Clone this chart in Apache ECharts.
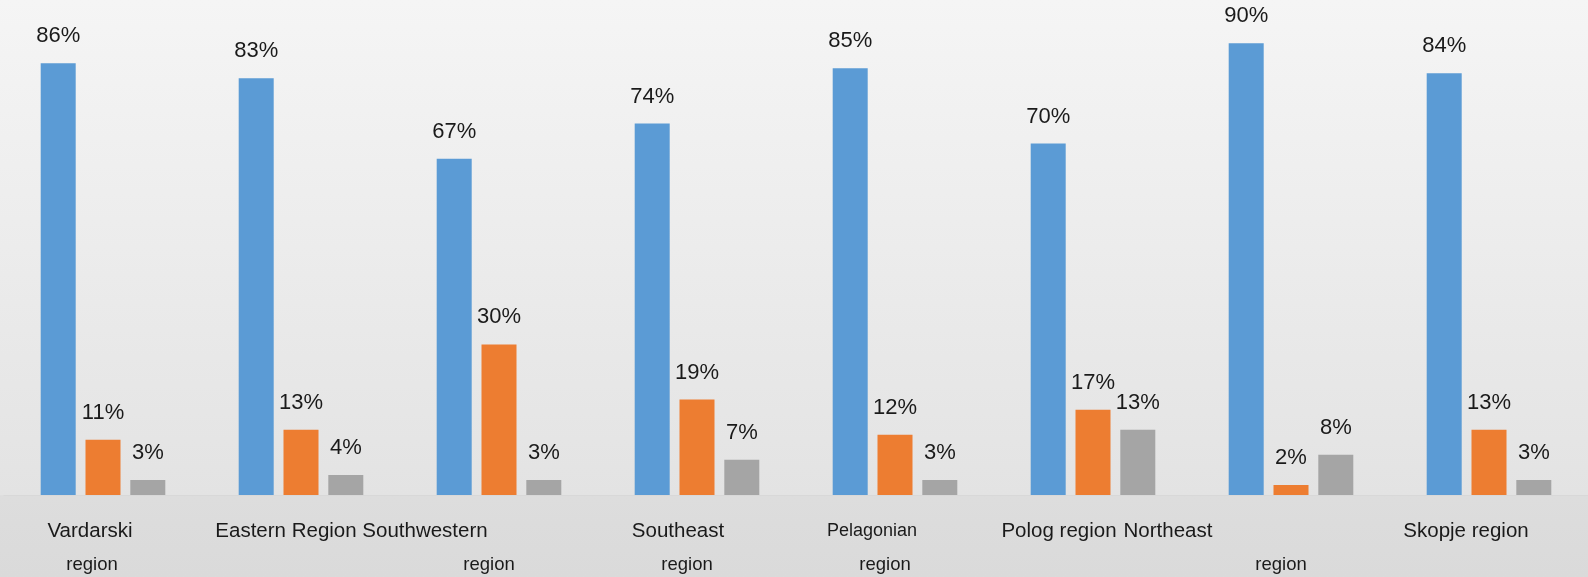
<!DOCTYPE html>
<html>
<head>
<meta charset="utf-8">
<script src="https://cdn.jsdelivr.net/npm/echarts@6/dist/echarts.min.js"></script>
<style>
  html, body { margin: 0; padding: 0; }
  #chart { width: 1588px; height: 577px; }
</style>
</head>
<body>
<div id="chart"></div>
<script>
// category labels as they are broken in the picture (line 1 \n line 2)
const categories = [
  'Vardarski\nregion', 'Eastern Region', 'Southwestern\nregion', 'Southeast\nregion',
  'Pelagonian\nregion', 'Polog region', 'Northeast\nregion', 'Skopje region'
]
const seriesA = [86, 83, 67, 74, 85, 70, 90, 84]
const seriesB = [11, 13, 30, 19, 12, 17, 2, 13]
const seriesC = [3, 4, 3, 7, 3, 13, 8, 3]

// horizontal nudge of each label line (px, negative = left)
const lineShift = [
  [-13, -11], [-15, 0], [-74, -10], [-19, -10],
  [-23, -10], [-34, 0], [-123, -10], [-23, 0]
]

const rich = {}
lineShift.forEach((s, i) => {
  rich['a' + i] = {
    fontSize: i === 4 ? 18 : 20.5, lineHeight: 32, color: '#1a1a1a',
    fontFamily: 'Liberation Sans',
    padding: s[0] < 0 ? [0, -2 * s[0], 0, 0] : [0, 0, 0, 2 * s[0]]
  }
  rich['b' + i] = {
    fontSize: 18.5, lineHeight: 36, color: '#1a1a1a',
    fontFamily: 'Liberation Sans',
    padding: s[1] < 0 ? [0, -2 * s[1], 0, 0] : [0, 0, 0, 2 * s[1]]
  }
})

const myChart = echarts.init(document.getElementById('chart'))

const barLabel = {
  show: true,
  position: 'top',
  distance: 16,
  formatter: '{c}%',
  fontSize: 22,
  color: '#1a1a1a',
  fontFamily: 'Liberation Sans'
}

myChart.setOption({
  animation: false,
  backgroundColor: new echarts.graphic.LinearGradient(0, 0, 0, 1, [
    { offset: 0, color: '#f5f5f5' },
    { offset: 0.857, color: '#e3e3e3' },
    { offset: 0.859, color: '#dddddd' },
    { offset: 1, color: '#dadada' }
  ]),
  grid: { left: 4, right: 0, top: 0, bottom: 82, outerBoundsMode: 'none' },
  xAxis: {
    type: 'category',
    data: categories,
    axisTick: { show: false },
    axisLine: { show: true, lineStyle: { color: '#d8d8d8' } },
    axisLabel: {
      interval: 0,
      margin: 20,
      verticalAlign: 'top',
      formatter(value, index) {
        const lines = value.split('\n')
        let out = '{a' + index + '|' + lines[0] + '}'
        if (lines[1]) out += '\n{b' + index + '|' + lines[1] + '}'
        return out
      },
      rich: rich
    }
  },
  yAxis: {
    type: 'value',
    min: 0,
    max: 98.6,
    show: false,
    splitLine: { show: false }
  },
  series: [
    {
      name: 'A', type: 'bar', data: seriesA, barWidth: 35, barGap: '28%',
      itemStyle: { color: '#5b9bd5' }, label: barLabel
    },
    {
      name: 'B', type: 'bar', data: seriesB, barWidth: 35, barGap: '28%',
      itemStyle: { color: '#ed7d31' }, label: barLabel
    },
    {
      name: 'C', type: 'bar', data: seriesC, barWidth: 35, barGap: '28%',
      itemStyle: { color: '#a5a5a5' }, label: barLabel
    }
  ]
})
</script>
</body>
</html>
